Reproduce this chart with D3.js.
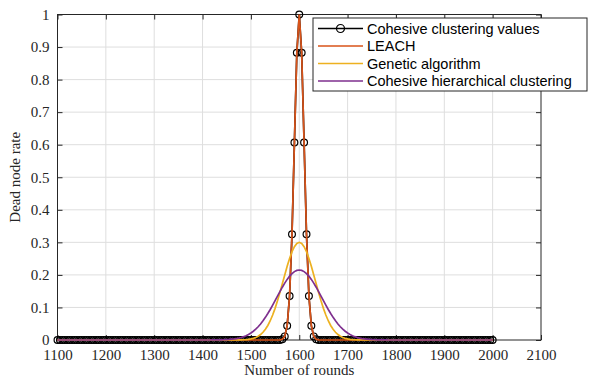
<!DOCTYPE html>
<html>
<head>
<meta charset="utf-8">
<script src="https://cdn.jsdelivr.net/npm/d3@7"></script>
<style>
  body { margin: 0; background: #fff; }
  svg { display: block; }
</style>
</head>
<body>
<div id="chart"></div>
<script>
(function () {
"use strict";

// Sample grid (rounds)
var rounds = [
  1100,1105,1110,1115,1120,1125,1130,1135,1140,1145,
  1150,1155,1160,1165,1170,1175,1180,1185,1190,1195,
  1200,1205,1210,1215,1220,1225,1230,1235,1240,1245,
  1250,1255,1260,1265,1270,1275,1280,1285,1290,1295,
  1300,1305,1310,1315,1320,1325,1330,1335,1340,1345,
  1350,1355,1360,1365,1370,1375,1380,1385,1390,1395,
  1400,1405,1410,1415,1420,1425,1430,1435,1440,1445,
  1450,1455,1460,1465,1470,1475,1480,1485,1490,1495,
  1500,1505,1510,1515,1520,1525,1530,1535,1540,1545,
  1550,1555,1560,1565,1570,1575,1580,1585,1590,1595,
  1600,1605,1610,1615,1620,1625,1630,1635,1640,1645,
  1650,1655,1660,1665,1670,1675,1680,1685,1690,1695,
  1700,1705,1710,1715,1720,1725,1730,1735,1740,1745,
  1750,1755,1760,1765,1770,1775,1780,1785,1790,1795,
  1800,1805,1810,1815,1820,1825,1830,1835,1840,1845,
  1850,1855,1860,1865,1870,1875,1880,1885,1890,1895,
  1900,1905,1910,1915,1920,1925,1930,1935,1940,1945,
  1950,1955,1960,1965,1970,1975,1980,1985,1990,1995,
  2000
];

var cohesiveValues = [
  0,0,0,0,0,0,0,0,0,0,
  0,0,0,0,0,0,0,0,0,0,
  0,0,0,0,0,0,0,0,0,0,
  0,0,0,0,0,0,0,0,0,0,
  0,0,0,0,0,0,0,0,0,0,
  0,0,0,0,0,0,0,0,0,0,
  0,0,0,0,0,0,0,0,0,0,
  0,0,0,0,0,0,0,0,0,0,
  0,0,0,0,0,0,0,0,0,0,
  0,0,0.0003,0.0022,0.0111,0.0439,0.1353,0.3247,0.6065,0.8825,
  1,0.8825,0.6065,0.3247,0.1353,0.0439,0.0111,0.0022,0.0003,0,
  0,0,0,0,0,0,0,0,0,0,
  0,0,0,0,0,0,0,0,0,0,
  0,0,0,0,0,0,0,0,0,0,
  0,0,0,0,0,0,0,0,0,0,
  0,0,0,0,0,0,0,0,0,0,
  0,0,0,0,0,0,0,0,0,0,
  0,0,0,0,0,0,0,0,0,0,
  0
];

var leachValues = [
  0,0,0,0,0,0,0,0,0,0,
  0,0,0,0,0,0,0,0,0,0,
  0,0,0,0,0,0,0,0,0,0,
  0,0,0,0,0,0,0,0,0,0,
  0,0,0,0,0,0,0,0,0,0,
  0,0,0,0,0,0,0,0,0,0,
  0,0,0,0,0,0,0,0,0,0,
  0,0,0,0,0,0,0,0,0,0,
  0,0,0,0,0,0,0,0,0,0,
  0,0,0.0003,0.0022,0.0111,0.0439,0.1353,0.3247,0.6065,0.8825,
  1,0.8825,0.6065,0.3247,0.1353,0.0439,0.0111,0.0022,0.0003,0,
  0,0,0,0,0,0,0,0,0,0,
  0,0,0,0,0,0,0,0,0,0,
  0,0,0,0,0,0,0,0,0,0,
  0,0,0,0,0,0,0,0,0,0,
  0,0,0,0,0,0,0,0,0,0,
  0,0,0,0,0,0,0,0,0,0,
  0,0,0,0,0,0,0,0,0,0,
  0
];

var geneticValues = [
  0,0,0,0,0,0,0,0,0,0,
  0,0,0,0,0,0,0,0,0,0,
  0,0,0,0,0,0,0,0,0,0,
  0,0,0,0,0,0,0,0,0,0,
  0,0,0,0,0,0,0,0,0,0,
  0,0,0,0,0,0,0,0,0,0,
  0,0,0,0,0,0,0,0,0,0,
  0,0,0,0,0.0001,0.0003,0.0005,0.0008,0.0013,0.0021,
  0.0033,0.0051,0.0078,0.0116,0.0167,0.0238,0.0329,0.0446,0.0592,0.0767,
  0.0972,0.1204,0.1458,0.1727,0.1999,0.2263,0.2505,0.2711,0.2868,0.2966,
  0.3,0.2966,0.2868,0.2711,0.2505,0.2263,0.1999,0.1727,0.1458,0.1204,
  0.0972,0.0767,0.0592,0.0446,0.0329,0.0238,0.0167,0.0116,0.0078,0.0051,
  0.0033,0.0021,0.0013,0.0008,0.0005,0.0003,0.0001,0,0,0,
  0,0,0,0,0,0,0,0,0,0,
  0,0,0,0,0,0,0,0,0,0,
  0,0,0,0,0,0,0,0,0,0,
  0,0,0,0,0,0,0,0,0,0,
  0,0,0,0,0,0,0,0,0,0,
  0
];

var hierarchicalValues = [
  0,0,0,0,0,0,0,0,0,0,
  0,0,0,0,0,0,0,0,0,0,
  0,0,0,0,0,0,0,0,0,0,
  0,0,0,0,0,0,0,0,0,0,
  0,0,0,0,0,0,0,0,0,0,
  0,0,0,0,0,0,0,0,0,0,
  0,0,0,0,0.0001,0.0002,0.0003,0.0004,0.0006,0.0009,
  0.0012,0.0017,0.0024,0.0032,0.0044,0.0059,0.0078,0.0102,0.0133,0.0170,
  0.0215,0.0269,0.0333,0.0407,0.0493,0.0589,0.0696,0.0813,0.0938,0.1071,
  0.1209,0.1349,0.1487,0.1622,0.1748,0.1862,0.1961,0.2041,0.2101,0.2138,
  0.215,0.2138,0.2101,0.2041,0.1961,0.1862,0.1748,0.1622,0.1487,0.1349,
  0.1209,0.1071,0.0938,0.0813,0.0696,0.0589,0.0493,0.0407,0.0333,0.0269,
  0.0215,0.0170,0.0133,0.0102,0.0078,0.0059,0.0044,0.0032,0.0024,0.0017,
  0.0012,0.0009,0.0006,0.0004,0.0003,0.0002,0.0001,0,0,0,
  0,0,0,0,0,0,0,0,0,0,
  0,0,0,0,0,0,0,0,0,0,
  0,0,0,0,0,0,0,0,0,0,
  0,0,0,0,0,0,0,0,0,0,
  0
];

var xTicks = [1100,1200,1300,1400,1500,1600,1700,1800,1900,2000,2100];
var yTicks = [0,0.1,0.2,0.3,0.4,0.5,0.6,0.7,0.8,0.9,1];

var seriesNames = ["Cohesive clustering values", "LEACH", "Genetic algorithm", "Cohesive hierarchical clustering"];
var seriesColors = ["#000000", "#D95319", "#EDB120", "#7E2F8E"];

////////////////////////////////////////////////////////////////////////////////

var fullWidth = 597, fullHeight = 379;
var margins = { left: 57.5, right: 56, top: 14.5, bottom: 39 };
var width = fullWidth - margins.left - margins.right,
    height = fullHeight - margins.top - margins.bottom;

var serif = "'Liberation Serif', 'Times New Roman', serif";
var sans = "'Liberation Sans', Arial, sans-serif";
var axisColor = "#262626";

var xScale = d3.scaleLinear().domain([1100, 2100]).range([0, width]);
var yScale = d3.scaleLinear().domain([0, 1]).range([height, 0]);

var svg = d3.select("#chart").append("svg")
  .attr("width", fullWidth)
  .attr("height", fullHeight);

var g = svg.append("g")
  .attr("transform", "translate(" + margins.left + "," + margins.top + ")");

// Grid
g.append("g").selectAll("line.vgrid")
    .data(xTicks.slice(1, -1))
  .enter().append("line")
    .attr("x1", function(d) { return xScale(d); })
    .attr("x2", function(d) { return xScale(d); })
    .attr("y1", 0).attr("y2", height)
    .style("stroke", "#dedede").style("stroke-width", 1);

g.append("g").selectAll("line.hgrid")
    .data(yTicks.slice(1, -1))
  .enter().append("line")
    .attr("x1", 0).attr("x2", width)
    .attr("y1", function(d) { return yScale(d); })
    .attr("y2", function(d) { return yScale(d); })
    .style("stroke", "#dedede").style("stroke-width", 1);

// Axes (inward ticks on all four sides)
function styleAxis(sel) {
  sel.select(".domain").remove();
  sel.selectAll(".tick line").style("stroke", axisColor);
  sel.selectAll(".tick text")
    .style("font-family", serif)
    .style("font-size", "15px")
    .style("fill", "#262626");
}

g.append("g")
  .attr("transform", "translate(0," + height + ")")
  .call(d3.axisBottom(xScale).tickValues(xTicks).tickFormat(d3.format("d"))
    .tickSizeInner(-5).tickSizeOuter(0).tickPadding(9))
  .call(styleAxis);

g.append("g")
  .call(d3.axisTop(xScale).tickValues(xTicks).tickFormat("")
    .tickSizeInner(-5).tickSizeOuter(0))
  .call(styleAxis);

g.append("g")
  .call(d3.axisLeft(yScale).tickValues(yTicks).tickFormat(function(d) { return d3.format("")(+d.toFixed(1)); })
    .tickSizeInner(-5).tickSizeOuter(0).tickPadding(8))
  .call(styleAxis);

g.append("g")
  .attr("transform", "translate(" + width + ",0)")
  .call(d3.axisRight(yScale).tickValues(yTicks).tickFormat("")
    .tickSizeInner(-5).tickSizeOuter(0))
  .call(styleAxis);

g.append("rect")
  .attr("x", 0).attr("y", 0)
  .attr("width", width).attr("height", height)
  .style("fill", "none")
  .style("stroke", axisColor)
  .style("stroke-width", 1);

// Series
var allValues = [cohesiveValues, leachValues, geneticValues, hierarchicalValues];

var line = d3.line()
  .x(function(d) { return xScale(d[0]); })
  .y(function(d) { return yScale(d[1]); });

allValues.forEach(function(vals, k) {
  var pts = rounds.map(function(r, i) { return [r, vals[i]]; });
  g.append("path")
    .datum(pts)
    .attr("d", line)
    .style("fill", "none")
    .style("stroke", seriesColors[k])
    .style("stroke-width", 1.7);

  if (k === 0) {
    g.append("g").selectAll("circle")
        .data(pts)
      .enter().append("circle")
        .attr("cx", function(d) { return xScale(d[0]); })
        .attr("cy", function(d) { return yScale(d[1]); })
        .attr("r", 3.4)
        .style("fill", "none")
        .style("stroke", "#000")
        .style("stroke-width", 1.2);
  }
});

// Axis labels
svg.append("text")
  .attr("x", margins.left + width / 2)
  .attr("y", 375)
  .style("text-anchor", "middle")
  .style("font-family", serif)
  .style("font-size", "15px")
  .style("fill", "#262626")
  .text("Number of rounds");

svg.append("text")
  .attr("transform", "translate(20," + (margins.top + height / 2) + ") rotate(-90)")
  .style("text-anchor", "middle")
  .style("font-family", serif)
  .style("font-size", "15px")
  .style("fill", "#262626")
  .text("Dead node rate");

// Legend
var legend = svg.append("g").attr("transform", "translate(313,18)");

legend.append("rect")
  .attr("x", 0).attr("y", 0)
  .attr("width", 274).attr("height", 73)
  .style("fill", "#fff")
  .style("stroke", axisColor)
  .style("stroke-width", 1);

var rowY = [10.5, 28, 45.5, 63];

seriesNames.forEach(function(name, k) {
  var row = legend.append("g").attr("transform", "translate(0," + rowY[k] + ")");
  row.append("line")
    .attr("x1", 5).attr("x2", 50)
    .attr("y1", 0).attr("y2", 0)
    .style("stroke", seriesColors[k])
    .style("stroke-width", 1.7);
  if (k === 0) {
    row.append("circle")
      .attr("cx", 27.5).attr("cy", 0).attr("r", 4)
      .style("fill", "none")
      .style("stroke", "#000")
      .style("stroke-width", 1.2);
  }
  row.append("text")
    .attr("x", 54).attr("y", 5)
    .style("font-family", sans)
    .style("font-size", "14.5px")
    .style("fill", "#000")
    .text(name);
});

})();
</script>
</body>
</html>
